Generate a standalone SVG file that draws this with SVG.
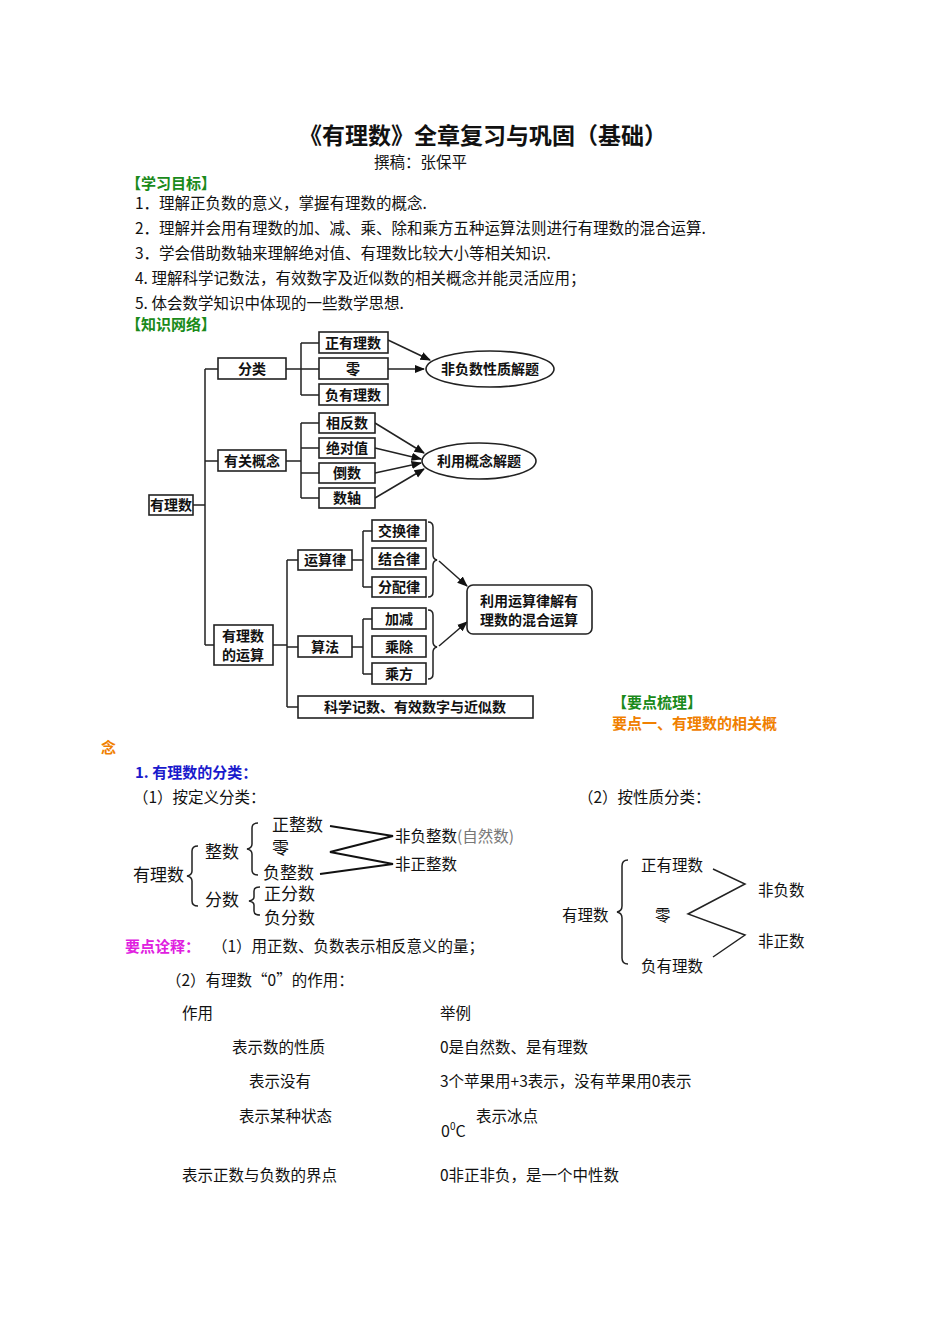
<svg xmlns="http://www.w3.org/2000/svg" width="950" height="1344" viewBox="0 0 950 1344">
<defs>
<marker id="ar" viewBox="0 0 10 10" refX="9" refY="5" markerWidth="7" markerHeight="7" orient="auto"><path d="M0,1 L10,5 L0,9 z" fill="#111"/></marker>
<style>
text{font-family:"Noto Sans CJK SC","Liberation Serif",sans-serif;fill:#111}
.b{font-size:15.5px}
.n{font-size:14px;font-weight:bold;text-anchor:middle}
.g{fill:#1a8a1a;font-weight:bold;font-size:15px}
.bx{fill:#fff;stroke:#222;stroke-width:1.6}
.ln{fill:none;stroke:#222;stroke-width:1.5}
.c{font-size:17px}
</style>
</defs>
<rect width="950" height="1344" fill="#fff"/>
<text x="483" y="144" font-size="23" font-weight="bold" text-anchor="middle">《有理数》全章复习与巩固（基础）</text>
<text x="374" y="168" class="b">撰稿：张保平</text>
<text x="126" y="189" class="g">【学习目标】</text>
<text x="135" y="209" class="b">1．理解正负数的意义，掌握有理数的概念.</text>
<text x="135" y="234" class="b">2．理解并会用有理数的加、减、乘、除和乘方五种运算法则进行有理数的混合运算.</text>
<text x="135" y="259" class="b">3．学会借助数轴来理解绝对值、有理数比较大小等相关知识.</text>
<text x="135" y="284" class="b">4. 理解科学记数法，有效数字及近似数的相关概念并能灵活应用；</text>
<text x="135" y="309" class="b">5. 体会数学知识中体现的一些数学思想.</text>
<text x="126" y="330" class="g">【知识网络】</text>

<g id="connectors">
<path class="ln" d="M193,505 H205 M205,369 V645 M205,369 H218 M205,461 H218 M205,645 H214"/>
<path class="ln" d="M286,369 H319 M301,343 V395 M301,343 H319 M301,395 H319"/>
<path class="ln" d="M286,461 H301 M301,423 V498 M301,423 H319 M301,448 H319 M301,473 H319 M301,498 H319"/>
<path class="ln" d="M273,645 H287 M287,560 V707 M287,560 H298 M287,647 H298 M287,707 H298"/>
<path class="ln" d="M352,560 H363 M363,531 V587 M363,531 H372 M363,587 H372"/>
<path class="ln" d="M352,647 H363 M363,619 V674 M363,619 H372 M363,674 H372"/>
<path class="ln" d="M428,522 q5,0 5,5 v28 q0,4 4,5 q-4,1 -4,5 v27 q0,5 -5,5"/>
<path class="ln" d="M428,610 q5,0 5,5 v27 q0,4 4,5 q-4,1 -4,5 v22 q0,5 -5,5"/>
<g class="ln" marker-end="url(#ar)">
<path d="M388,340 L430,360"/><path d="M388,369 L424,369"/>
<path d="M375,423 L424,453"/><path d="M375,448 L421,459"/><path d="M375,473 L421,463"/><path d="M375,498 L424,469"/>
<path d="M439,561 L467,586"/><path d="M439,646 L467,622"/>
</g>
</g>

<g id="n-root"><rect class="bx" x="149" y="495" width="44" height="20"/><text x="171" y="510" class="n">有理数</text></g>
<g id="n-fenlei"><rect class="bx" x="218" y="358" width="68" height="21"/><text x="252" y="374" class="n">分类</text></g>
<g id="n-gainian"><rect class="bx" x="218" y="450" width="68" height="21"/><text x="252" y="466" class="n">有关概念</text></g>
<g id="n-yunsuan"><rect class="bx" x="214" y="625" width="59" height="40"/><text x="243" y="641" class="n">有理数</text><text x="243" y="660" class="n">的运算</text></g>
<g id="n-zheng"><rect class="bx" x="319" y="332" width="69" height="21"/><text x="353" y="348" class="n">正有理数</text></g>
<g id="n-ling"><rect class="bx" x="319" y="358" width="69" height="21"/><text x="353" y="374" class="n">零</text></g>
<g id="n-fu"><rect class="bx" x="319" y="384" width="69" height="21"/><text x="353" y="400" class="n">负有理数</text></g>
<g id="n-e1"><ellipse cx="490" cy="369" rx="64" ry="18" fill="#fff" stroke="#222" stroke-width="1.6"/><text x="490" y="374" class="n">非负数性质解题</text></g>
<g id="n-xf"><rect class="bx" x="319" y="413" width="56" height="20"/><text x="347" y="428" class="n">相反数</text></g>
<g id="n-jd"><rect class="bx" x="319" y="438" width="56" height="20"/><text x="347" y="453" class="n">绝对值</text></g>
<g id="n-ds"><rect class="bx" x="319" y="463" width="56" height="20"/><text x="347" y="478" class="n">倒数</text></g>
<g id="n-sz"><rect class="bx" x="319" y="488" width="56" height="20"/><text x="347" y="503" class="n">数轴</text></g>
<g id="n-e2"><ellipse cx="479" cy="461" rx="57" ry="18" fill="#fff" stroke="#222" stroke-width="1.6"/><text x="479" y="466" class="n">利用概念解题</text></g>
<g id="n-ysl"><rect class="bx" x="298" y="550" width="54" height="20"/><text x="325" y="565" class="n">运算律</text></g>
<g id="n-sf"><rect class="bx" x="298" y="636" width="54" height="21"/><text x="325" y="652" class="n">算法</text></g>
<g id="n-kx"><rect class="bx" x="298" y="696" width="235" height="22"/><text x="415" y="712" class="n">科学记数、有效数字与近似数</text></g>
<g id="n-jh"><rect class="bx" x="372" y="520" width="54" height="21"/><text x="399" y="536" class="n">交换律</text></g>
<g id="n-jhe"><rect class="bx" x="372" y="548" width="54" height="21"/><text x="399" y="564" class="n">结合律</text></g>
<g id="n-fp"><rect class="bx" x="372" y="577" width="54" height="20"/><text x="399" y="592" class="n">分配律</text></g>
<g id="n-jj"><rect class="bx" x="372" y="608" width="54" height="21"/><text x="399" y="624" class="n">加减</text></g>
<g id="n-cc"><rect class="bx" x="372" y="636" width="54" height="21"/><text x="399" y="652" class="n">乘除</text></g>
<g id="n-cf"><rect class="bx" x="372" y="663" width="54" height="21"/><text x="399" y="679" class="n">乘方</text></g>
<g id="n-r"><rect class="bx" x="467" y="585" width="125" height="49" rx="6"/><text x="529" y="606" class="n">利用运算律解有</text><text x="529" y="625" class="n">理数的混合运算</text></g>

<text x="612" y="708" class="g">【要点梳理】</text>
<text x="612" y="729" font-size="15" font-weight="bold" style="fill:#f08000">要点一、有理数的相关概</text>
<text x="101" y="753" font-size="15" font-weight="bold" style="fill:#f08000">念</text>
<text x="135" y="778" font-size="15" font-weight="bold" style="fill:#1a1acc">1. 有理数的分类：</text>
<text x="133" y="803" class="b">（1）按定义分类：</text>
<text x="578" y="803" class="b">（2）按性质分类：</text>

<g id="cls1">
<text x="133" y="881" class="c">有理数</text>
<path class="ln" d="M198,846 q-6,0 -6,5 v20 q0,4 -5,5 q5,1 5,5 v20 q0,5 6,5"/>
<text x="205" y="858" class="c">整数</text>
<text x="205" y="906" class="c">分数</text>
<path class="ln" d="M258,823 q-6,0 -6,5 v16 q0,4 -5,5 q5,1 5,5 v16 q0,5 6,5"/>
<text x="272" y="831" class="c">正整数</text>
<text x="272" y="854" class="c">零</text>
<text x="263" y="879" class="c">负整数</text>
<path class="ln" d="M260,887 q-6,0 -6,4 v6 q0,3 -5,4 q5,1 5,4 v6 q0,4 6,4"/>
<text x="264" y="900" class="c">正分数</text>
<text x="264" y="924" class="c">负分数</text>
<path d="M330,826 L393,836 L330,852 L393,864 L320,874" fill="none" stroke="#111" stroke-width="2"/>
<text x="395" y="842" font-size="15.5">非负整数<tspan fill="#777">(自然数)</tspan></text>
<text x="395" y="870" font-size="15.5">非正整数</text>
</g>

<g id="cls2">
<text x="562" y="921" class="b">有理数</text>
<path class="ln" d="M628,860 q-6,0 -6,6 v40 q0,5 -5,6 q5,1 5,6 v40 q0,6 6,6"/>
<text x="641" y="871" class="b">正有理数</text>
<text x="655" y="921" class="b">零</text>
<text x="641" y="972" class="b">负有理数</text>
<path class="ln" d="M713,869 L745,884 L688,914 L745,935 L713,957"/>
<text x="758" y="896" class="b">非负数</text>
<text x="758" y="947" class="b">非正数</text>
</g>

<text x="125" y="952" font-size="15" font-weight="bold" style="fill:#e020e0">要点诠释：</text>
<text x="212" y="952" class="b">（1）用正数、负数表示相反意义的量；</text>
<text x="166" y="986" class="b">（2）有理数“0”的作用：</text>
<text x="182" y="1019" class="b">作用</text>
<text x="440" y="1019" class="b">举例</text>
<text x="232" y="1053" class="b">表示数的性质</text>
<text x="440" y="1053" class="b">0是自然数、是有理数</text>
<text x="249" y="1087" class="b">表示没有</text>
<text x="440" y="1087" class="b">3个苹果用+3表示，没有苹果用0表示</text>
<text x="239" y="1122" class="b">表示某种状态</text>
<text x="476" y="1122" class="b">表示冰点</text>
<text x="441" y="1137" font-size="16" font-family="Liberation Serif,serif">0<tspan font-size="10" dy="-7">0</tspan><tspan dy="7">C</tspan></text>
<text x="182" y="1181" class="b">表示正数与负数的界点</text>
<text x="440" y="1181" class="b">0非正非负，是一个中性数</text>
</svg>
